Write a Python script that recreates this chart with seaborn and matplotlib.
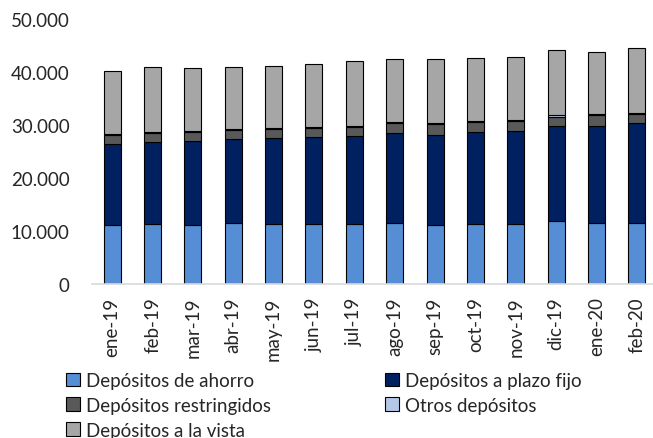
import numpy as np
import pandas as pd
import seaborn as sns
import matplotlib.pyplot as plt
from matplotlib.ticker import FuncFormatter, FixedLocator
from matplotlib.patches import Patch

meses = ["ene-19", "feb-19", "mar-19", "abr-19", "may-19", "jun-19", "jul-19",
         "ago-19", "sep-19", "oct-19", "nov-19", "dic-19", "ene-20", "feb-20"]

ahorro = [11100, 11300, 11100, 11600, 11300, 11300, 11300,
          11500, 11100, 11300, 11300, 11900, 11600, 11600]
plazo_fijo = [15300, 15400, 15800, 15700, 16200, 16400, 16600,
              16900, 17100, 17300, 17500, 17900, 18300, 18700]
restringidos = [1700, 1700, 1700, 1800, 1700, 1700, 1800,
                1900, 1900, 2000, 2000, 1800, 1900, 1700]
otros = [200] * 14
vista = [11900, 12300, 12000, 11700, 11800, 12000, 12200,
         12000, 12100, 11800, 11900, 12300, 11800, 12300]

series = [
    ("Depósitos de ahorro", ahorro, "#558ED5"),
    ("Depósitos a plazo fijo", plazo_fijo, "#002060"),
    ("Depósitos restringidos", restringidos, "#595959"),
    ("Otros depósitos", otros, "#B4C7E7"),
    ("Depósitos a la vista", vista, "#A6A6A6"),
]

sns.set_style("white")
plt.rcParams["font.family"] = ["Lato", "DejaVu Sans"]

fig = plt.figure(figsize=(6.53, 4.39), dpi=100)
ax = fig.add_axes([92 / 653, 1 - 285 / 439, 563 / 653, 265 / 439])

base = np.zeros(len(meses))
for nombre, vals, color in series:
    df = pd.DataFrame({"mes": meses, "valor": vals})
    sns.barplot(data=df, x="mes", y="valor", color=color, bottom=base,
                width=0.42, edgecolor="black", linewidth=0.8, ax=ax,
                saturation=1)
    base = base + np.array(vals)

ax.set_xlim(-0.5, 13.45)
ax.set_ylim(0, 50000)
ax.set_yticks(np.arange(0, 50001, 10000))
ax.yaxis.set_major_formatter(FuncFormatter(lambda v, p: f"{int(v):,}".replace(",", ".")))
ax.set_xlabel("")
ax.set_ylabel("")
for s in ["top", "right", "left"]:
    ax.spines[s].set_visible(False)
ax.spines["bottom"].set_color("#D9D9D9")
ax.spines["bottom"].set_linewidth(1.2)
ax.tick_params(axis="y", length=0, labelsize=13.5, pad=16)
ax.tick_params(axis="x", which="major", length=0, labelsize=13.5, rotation=90, pad=9)
ax.xaxis.set_minor_locator(FixedLocator(np.arange(-0.5, 14, 1)))
ax.tick_params(axis="x", which="minor", length=6, color="#D9D9D9", width=1.2)

handles = [Patch(facecolor=c, edgecolor="black", linewidth=0.8, label=n) for n, _, c in series]
order = [0, 2, 4, 1, 3]
fig.legend([handles[i] for i in order], [series[i][0] for i in order],
           ncol=2, loc="upper left", bbox_to_anchor=(66 / 653, 1 - 373 / 439),
           frameon=False, fontsize=13.5, handlelength=0.75, handleheight=0.75,
           handletextpad=0.3, columnspacing=6.1, labelspacing=0.42,
           borderaxespad=0, borderpad=0)

fig.savefig("out.png", dpi=100)
